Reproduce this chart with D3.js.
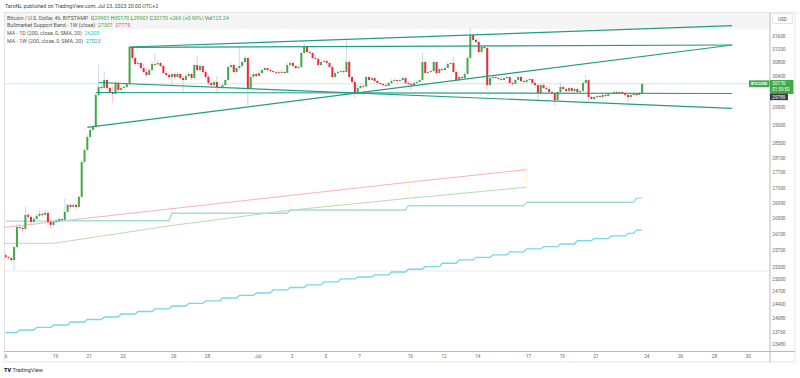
<!DOCTYPE html>
<html>
<head>
<meta charset="utf-8">
<script src="https://d3js.org/d3.v7.min.js"></script>
<style>
  body { margin: 0; background: #fff; }
  svg text { font-family: Roboto, "Liberation Sans", Arial, sans-serif; }
</style>
</head>
<body>
<div class="chart"></div>
<script>
var svgWidth = 800;
var svgHeight = 378;

// pane edges
var paneLeft = 4.5, paneRight = 770, paneTop = 12.5, paneBottom = 351.5;
var frameRight = 795, frameBottom = 362;

// 4h bars, first one opens Jun 16 02:00 (chart time UTC+2), open = previous close
var barStart = Date.UTC(2023, 5, 16, 2);
var barMs = 4 * 3600 * 1000;
var dayMs = 24 * 3600 * 1000;

var firstOpen = 25581;
var closes = [
  25532, 25507, 25458, 25778, 26283, 26258, 26232, 26590, 26539, 26410,
  26487, 26564, 26615, 26590, 26641, 26410, 26334, 26410, 26436, 26487,
  26461, 26667, 26847, 26795, 26847, 26795, 27055, 27980, 28308, 28663,
  28857, 28941, 29845, 30076, 30047, 30280, 30047, 29932, 29874, 30193,
  29990, 30047, 30076, 30164, 31258, 30929, 30751, 30781, 30632, 30514,
  30426, 30573, 30751, 30740, 30781, 30691, 30485, 30426, 30368, 30455,
  30368, 30455, 30338, 30280, 30397, 30455, 30338, 30720, 30573, 30691,
  30514, 30368, 30193, 30134, 30222, 30076, 30047, 30134, 30280, 30661,
  30720, 30514, 30632, 30691, 30810, 30929, 30047, 30368, 30455, 30397,
  30485, 30573, 30632, 30573, 30543, 30514, 30505, 30485, 30514, 30485,
  30720, 30781, 30691, 30632, 30661, 31078, 31258, 31108, 31078, 30929,
  30899, 30720, 30810, 30840, 30781, 30661, 30368, 30485, 30514, 30543,
  30514, 30810, 30368, 30222, 29932, 30047, 30105, 30095, 30368, 30280,
  30338, 30251, 30193, 30164, 30134, 30105, 30193, 30251, 30280, 30251,
  30280, 30338, 30193, 30164, 30134, 30193, 30222, 30280, 30810, 30485,
  30514, 30543, 30810, 30485, 30602, 30573, 30632, 30751, 30781, 30514,
  30280, 30368, 30338, 30455, 30929, 31621, 31469, 31409, 31108, 31258,
  31228, 30134, 30338, 30368, 30338, 30309, 30280, 30338, 30368, 30193,
  30164, 30280, 30368, 30251, 30222, 30280, 30309, 30193, 30134, 29903,
  30134, 30047, 30019, 29932, 29903, 29702, 29932, 30076, 30019, 29961,
  30047, 29961, 30019, 29932, 29961, 30193, 30280, 29788, 29731, 29788,
  29817, 29788, 29845, 29817, 29874, 29903, 29932, 29903, 29932, 29903,
  29845, 29788, 29845, 29874, 29845, 29901, 30170
];
var highs = [
  25633, 25556, 25532, 25806, 26360, 26360, 26334, 26795, 26641, 26564,
  26539, 26615, 26718, 26667, 26718, 26667, 26461, 26461, 26487, 26539,
  26513, 27029, 26900, 26874, 26900, 26900, 27104, 28036, 28363, 28718,
  28913, 28996, 29903, 30720, 30164, 30514, 30309, 30105, 30105, 30251,
  30222, 30105, 30134, 30193, 31288, 31288, 30958, 30840, 30810, 30751,
  30632, 30632, 30810, 31078, 30869, 30810, 30720, 30543, 30455, 30485,
  30485, 30514, 30485, 30397, 30455, 30514, 30485, 30781, 31018, 30751,
  30720, 30573, 30426, 30222, 30280, 30397, 30105, 30164, 30309, 30691,
  30781, 30751, 30691, 31258, 30869, 30988, 30958, 30426, 30514, 30485,
  30543, 30602, 30661, 30632, 30602, 30573, 30543, 30543, 30573, 30543,
  30781, 30840, 30810, 30720, 30720, 31138, 31378, 31288, 31168, 31108,
  31018, 30958, 30840, 30869, 30869, 30810, 30691, 30514, 30573, 30602,
  30573, 31469, 30869, 30397, 30280, 30134, 30164, 30164, 30397, 30397,
  30368, 30368, 30280, 30222, 30193, 30164, 30222, 30309, 30338, 30309,
  30309, 30397, 30368, 30222, 30193, 30222, 30280, 30309, 31078, 30840,
  30543, 30602, 30869, 30810, 30632, 30632, 30661, 30810, 30810, 30958,
  30543, 30397, 30397, 30514, 30988, 31835, 31682, 31530, 31439, 31318,
  31318, 31258, 30368, 30397, 30397, 30368, 30368, 30368, 30397, 30368,
  30251, 30309, 30426, 30397, 30280, 30309, 30338, 30309, 30222, 30164,
  30164, 30164, 30105, 30076, 29990, 29932, 29961, 30222, 30105, 30047,
  30076, 30076, 30047, 30047, 29990, 30222, 30426, 30309, 29817, 29817,
  29845, 29845, 29874, 29874, 29903, 29932, 29961, 29961, 29961, 29961,
  29932, 29874, 29903, 29932, 29903, 29932, 30170
];
var lows = [
  25483, 25458, 25409, 25217, 25756, 26207, 26157, 26207, 26487, 26360,
  26385, 26461, 26539, 26539, 26564, 26309, 26258, 26309, 26385, 26436,
  26410, 26410, 26641, 26744, 26770, 26744, 26770, 27029, 27954, 28281,
  28636, 28830, 28913, 29817, 29990, 30019, 29990, 29845, 29617, 29845,
  29932, 29961, 30019, 30047, 30134, 30869, 30691, 30691, 30573, 30455,
  30368, 30397, 30514, 30691, 30720, 30661, 30455, 30368, 30309, 30134,
  30309, 30338, 30280, 29903, 30251, 30368, 30280, 30309, 30514, 30514,
  30455, 30309, 30134, 30076, 30105, 29903, 29990, 30019, 30105, 30251,
  30602, 30455, 30485, 30573, 30661, 30781, 29560, 30019, 30338, 30338,
  30368, 30455, 30543, 30514, 30514, 30485, 30455, 30455, 30485, 30455,
  30485, 30691, 30632, 30573, 30602, 30632, 31048, 31078, 31018, 30899,
  30869, 30691, 30691, 30781, 30751, 30632, 30338, 30338, 30455, 30485,
  30455, 30485, 30309, 30164, 29760, 29845, 30019, 30047, 30076, 30251,
  30251, 30222, 30164, 30134, 30105, 30076, 30105, 30164, 30222, 30222,
  30222, 30251, 30164, 30105, 29990, 30105, 30164, 30193, 30251, 30455,
  30455, 30485, 30514, 30426, 30455, 30543, 30543, 30632, 30720, 30485,
  30251, 30251, 30309, 30309, 30426, 30899, 31409, 31348, 31078, 31078,
  31168, 29990, 30105, 30280, 30309, 30280, 30251, 30280, 30309, 30164,
  30105, 30164, 30280, 30222, 30193, 30193, 30251, 30164, 30047, 29702,
  29874, 30019, 29990, 29903, 29874, 29532, 29674, 29903, 29990, 29932,
  29932, 29932, 29932, 29903, 29903, 29932, 30164, 29645, 29702, 29702,
  29731, 29760, 29760, 29788, 29788, 29845, 29874, 29874, 29874, 29874,
  29817, 29645, 29760, 29817, 29817, 29845, 29901
];

// MA - 1D (200 SMA), one value per day from Jun 16, plus the live value of the last bars
var ma1dDaily = [
  23742, 23799, 23857, 23914, 23983, 24041, 24099, 24169, 24227, 24286,
  24356, 24415, 24474, 24544, 24604, 24663, 24735, 24794, 24854, 24926,
  24998, 25046, 25095, 25167, 25233, 25296, 25379, 25460, 25526, 25583,
  25657, 25731, 25788, 25855, 25938, 25988, 26056, 26123
];
var ma1dLive = 26203;
// MA - 1W (200 SMA), weeks from Jun 12
var ma1wWeekly = [26430, 26441, 26631, 26715, 26826, 26914];
var ma1wLive = 27023;
var liveFromBar = 224;

// Bullmarket Support Band (1W): 20w SMA and 21w EMA
var bandWeeks = [
  Date.UTC(2023, 5, 12, 2), Date.UTC(2023, 5, 19, 2), Date.UTC(2023, 5, 26, 2),
  Date.UTC(2023, 6, 3, 2), Date.UTC(2023, 6, 10, 2), Date.UTC(2023, 6, 17, 2)
];
var bandSma = [25872, 25872, 26319, 26710, 27018, 27307];
var bandEma = [26077, 26411, 26749, 27091, 27438, 27775];

// drawn trend lines: [time1, price1, time2, price2]
var trendLines = [
  [Date.UTC(2023, 5, 23, 10), 31258, Date.UTC(2023, 6, 29, 2), 31906],
  [Date.UTC(2023, 5, 23, 10), 31249, Date.UTC(2023, 6, 29, 2), 31318],
  [Date.UTC(2023, 5, 20, 22), 28931, Date.UTC(2023, 6, 29, 2), 31318],
  [Date.UTC(2023, 5, 21, 14), 30207, Date.UTC(2023, 6, 29, 2), 29466],
  [Date.UTC(2023, 5, 21, 10), 29917, Date.UTC(2023, 6, 29, 2), 29889]
];

var lastPrice = 30170;
var markPrice = 29789;

var yTicks = [31600, 31200, 30800, 30400, 29500, 29000, 28500, 28100, 27700, 27300,
  26900, 26500, 26100, 25700, 25300, 25000, 24700, 24400, 24080, 23760, 23480];
var xTickDates = [
  Date.UTC(2023, 5, 16), Date.UTC(2023, 5, 19), Date.UTC(2023, 5, 21), Date.UTC(2023, 5, 23),
  Date.UTC(2023, 5, 26), Date.UTC(2023, 5, 28), Date.UTC(2023, 6, 1), Date.UTC(2023, 6, 3),
  Date.UTC(2023, 6, 5), Date.UTC(2023, 6, 7), Date.UTC(2023, 6, 10), Date.UTC(2023, 6, 12),
  Date.UTC(2023, 6, 14), Date.UTC(2023, 6, 17), Date.UTC(2023, 6, 19), Date.UTC(2023, 6, 21),
  Date.UTC(2023, 6, 24), Date.UTC(2023, 6, 26), Date.UTC(2023, 6, 28), Date.UTC(2023, 6, 30)
];

var upColor = "#43a847", downColor = "#f0283c";
var upWick = "#bcd3de", downWick = "#f6b4bb";

var svg = d3.select(".chart")
  .append("svg")
  .attr("width", svgWidth)
  .attr("height", svgHeight);

var xScale = d3.scaleUtc()
  .domain([Date.UTC(2023, 6, 1), Date.UTC(2023, 6, 30)])
  .range([257.7, 747.7]);

var yScale = d3.scaleLog()
  .domain([23480, 31600])
  .range([344, 35.7]);

var defs = svg.append("defs");
defs.append("clipPath").attr("id", "pane")
  .append("rect")
  .attr("x", paneLeft).attr("y", paneTop)
  .attr("width", paneRight - paneLeft).attr("height", paneBottom - paneTop);
defs.append("clipPath").attr("id", "xclip")
  .append("rect").attr("x", paneLeft).attr("y", 0).attr("width", paneRight - paneLeft).attr("height", 12);

// light strip behind the first legend rows
svg.append("rect")
  .attr("x", paneLeft).attr("y", paneTop)
  .attr("width", paneRight - paneLeft).attr("height", 16.5)
  .attr("fill", "#f5f5f5");

// frame and separators
svg.append("rect")
  .attr("x", paneLeft).attr("y", paneTop)
  .attr("width", frameRight - paneLeft).attr("height", frameBottom - paneTop)
  .attr("fill", "none").attr("stroke", "#d9d9d9").attr("stroke-width", 0.7);
svg.append("line")
  .attr("x1", paneLeft).attr("x2", paneRight).attr("y1", 271).attr("y2", 271)
  .attr("stroke", "#e3e3e3").attr("stroke-width", 0.8);
svg.append("line")
  .attr("x1", paneLeft).attr("x2", frameRight).attr("y1", paneBottom).attr("y2", paneBottom)
  .attr("stroke", "#a8a8a8").attr("stroke-width", 0.8);
svg.append("line")
  .attr("x1", paneRight).attr("x2", paneRight).attr("y1", paneTop).attr("y2", frameBottom)
  .attr("stroke", "#a8a8a8").attr("stroke-width", 0.8);

var pane = svg.append("g").attr("clip-path", "url(#pane)");

var bars = closes.map(function (c, i) {
  return {
    i: i,
    t: new Date(barStart + i * barMs),
    o: i === 0 ? firstOpen : closes[i - 1],
    h: highs[i],
    l: lows[i],
    c: c
  };
});

// price line of the last close
pane.append("line")
  .attr("x1", paneLeft).attr("x2", paneRight)
  .attr("y1", yScale(lastPrice)).attr("y2", yScale(lastPrice))
  .attr("stroke", "#c3e8c6").attr("stroke-width", 0.8);

// Bullmarket Support Band
var bandPts = bandWeeks.map(function (w, k) {
  return { t: new Date(w - barMs), sma: bandSma[k], ema: bandEma[k] };
});
pane.selectAll(".bandFill")
  .data(bandPts.slice(1))
  .enter()
  .append("line")
  .attr("x1", d => xScale(d.t)).attr("x2", d => xScale(d.t))
  .attr("y1", d => yScale(d.ema)).attr("y2", d => yScale(d.sma))
  .attr("stroke", "#fff3bd").attr("stroke-width", 0.7);
pane.append("path")
  .datum(bandPts)
  .attr("fill", "none").attr("stroke", "#f7aaaa").attr("stroke-width", 0.9)
  .attr("d", d3.line().x(d => xScale(d.t)).y(d => yScale(d.ema)));
pane.append("path")
  .datum(bandPts)
  .attr("fill", "none").attr("stroke", "#acd9a3").attr("stroke-width", 0.9)
  .attr("d", d3.line().x(d => xScale(d.t)).y(d => yScale(d.sma)));

// moving averages (higher timeframe values held on each 4h bar)
function ma1dAt(i) {
  if (i >= liveFromBar) return ma1dLive;
  return ma1dDaily[Math.floor(((i + 1) * barMs) / dayMs)];
}
function ma1wAt(i) {
  if (i >= liveFromBar) return ma1wLive;
  return ma1wWeekly[Math.floor(((i + 1) * barMs + 4 * dayMs) / (7 * dayMs))];
}
pane.append("path")
  .datum(bars)
  .attr("fill", "none").attr("stroke", "#a6ddd3").attr("stroke-width", 1.4)
  .attr("d", d3.line().x(d => xScale(d.t)).y(d => yScale(ma1wAt(d.i))));
pane.append("path")
  .datum(bars)
  .attr("fill", "none").attr("stroke", "#77d8ea").attr("stroke-width", 1.3)
  .attr("d", d3.line().x(d => xScale(d.t)).y(d => yScale(ma1dAt(d.i))));

// candles
pane.selectAll(".wick")
  .data(bars)
  .enter()
  .append("line")
  .attr("x1", d => xScale(d.t)).attr("x2", d => xScale(d.t))
  .attr("y1", d => yScale(d.h)).attr("y2", d => yScale(d.l))
  .attr("stroke", d => d.c >= d.o ? upWick : downWick)
  .attr("stroke-width", 0.8);
pane.selectAll(".body")
  .data(bars)
  .enter()
  .append("rect")
  .attr("x", d => xScale(d.t) - 1)
  .attr("width", 2)
  .attr("y", d => yScale(Math.max(d.o, d.c)))
  .attr("height", d => Math.max(0.8, Math.abs(yScale(d.o) - yScale(d.c))))
  .attr("fill", d => d.c >= d.o ? upColor : downColor);

// trend lines
pane.selectAll(".trend")
  .data(trendLines)
  .enter()
  .append("line")
  .attr("x1", d => xScale(d[0])).attr("y1", d => yScale(d[1]))
  .attr("x2", d => xScale(d[2])).attr("y2", d => yScale(d[3]))
  .attr("stroke", "#1f9e86").attr("stroke-width", 1.2);

// axes
var xAxis = svg.append("g")
  .attr("clip-path", "url(#xclip)")
  .attr("transform", `translate(0, ${paneBottom})`)
  .call(d3.axisBottom(xScale)
    .tickValues(xTickDates.map(d => new Date(d)))
    .tickSize(0).tickPadding(3.6)
    .tickFormat(d => d.getUTCDate() === 1 ? "Jul" : d.getUTCDate()));
xAxis.select(".domain").remove();
xAxis.selectAll("text").attr("font-size", 4.7).attr("fill", "#666");

var yAxis = svg.append("g")
  .attr("transform", `translate(${paneRight}, 0)`)
  .call(d3.axisRight(yScale).tickValues(yTicks).tickSize(0).tickPadding(2.3).tickFormat(d3.format("d")));
yAxis.select(".domain").remove();
yAxis.selectAll("text").attr("font-size", 4.7).attr("fill", "#666");

// currency box
svg.append("rect")
  .attr("x", 772.5).attr("y", 14).attr("width", 20).attr("height", 9.5).attr("rx", 1.5)
  .attr("fill", "#fff").attr("stroke", "#d4d4d4").attr("stroke-width", 0.6);
svg.append("text")
  .attr("x", 782.5).attr("y", 20.6).attr("text-anchor", "middle")
  .attr("font-size", 4.7).attr("fill", "#555").text("USD");

// last price labels
var yLast = yScale(lastPrice);
svg.append("rect")
  .attr("x", 749).attr("y", yLast - 3.4).attr("width", 20.5).attr("height", 6.8)
  .attr("fill", upColor);
svg.append("text")
  .attr("x", 759.2).attr("y", yLast + 1.6).attr("text-anchor", "middle")
  .attr("font-size", 4.3).attr("font-weight", 700).attr("fill", "#fff").text("BTCUSD");
svg.append("rect")
  .attr("x", 770).attr("y", yLast - 3.8).attr("width", 23.5).attr("height", 14)
  .attr("fill", upColor);
svg.append("text")
  .attr("x", 772.3).attr("y", yLast + 1.7)
  .attr("font-size", 4.7).attr("fill", "#fff").text("30170");
svg.append("text")
  .attr("x", 772.3).attr("y", yLast + 7.5)
  .attr("font-size", 4.5).attr("fill", "#fff").text("01:59:50");
var yMark = yScale(markPrice);
svg.append("rect")
  .attr("x", 770).attr("y", yMark - 3.2).attr("width", 18).attr("height", 6.4)
  .attr("fill", "#363a45");
svg.append("text")
  .attr("x", 772.3).attr("y", yMark + 1.7)
  .attr("font-size", 4.7).attr("fill", "#fff").text("29789");

// header and legend
svg.append("text")
  .attr("x", 5).attr("y", 8)
  .attr("font-size", 5.3).attr("fill", "#444")
  .text("TaroNL published on TradingView.com, Jul 23, 2023 20:00 UTC+2");

var legendRows = [
  [["Bitcoin / U.S. Dollar, 4h, BITSTAMP  ", "#555"], ["O", "#555"], ["29901", upColor], [" H", "#555"], ["30170", upColor],
    [" L", "#555"], ["29901", upColor], [" C", "#555"], ["30170", upColor], [" +269 (+0.90%)", upColor],
    [" Vol", "#555"], ["123.24", upColor]],
  [["Bullmarket Support Band - 1W (close)  ", "#555"], ["27307", "#4caf50"], ["  27775", "#f44c5a"]],
  [["MA - 1D (200, close, 0, SMA, 20)  ", "#555"], ["26203", "#1cc3dc"]],
  [["MA - 1W (200, close, 0, SMA, 20)  ", "#555"], ["27023", "#26a69a"]]
];
var legendY = [20, 27, 35, 42.5];

legendRows.forEach(function (row, r) {
  var t = svg.append("text")
    .attr("x", 7).attr("y", legendY[r])
    .attr("font-size", 5.3)
    .attr("xml:space", "preserve")
    .style("white-space", "pre");
  row.forEach(function (part) {
    t.append("tspan").attr("fill", part[1]).text(part[0]);
  });
});

// footer
svg.append("text")
  .attr("x", 4).attr("y", 372)
  .attr("font-size", 5.5).attr("font-weight", 900).attr("fill", "#131722")
  .text("TV");
svg.append("text")
  .attr("x", 12.5).attr("y", 372)
  .attr("font-size", 5.5).attr("fill", "#333")
  .text("TradingView");
</script>
</body>
</html>
